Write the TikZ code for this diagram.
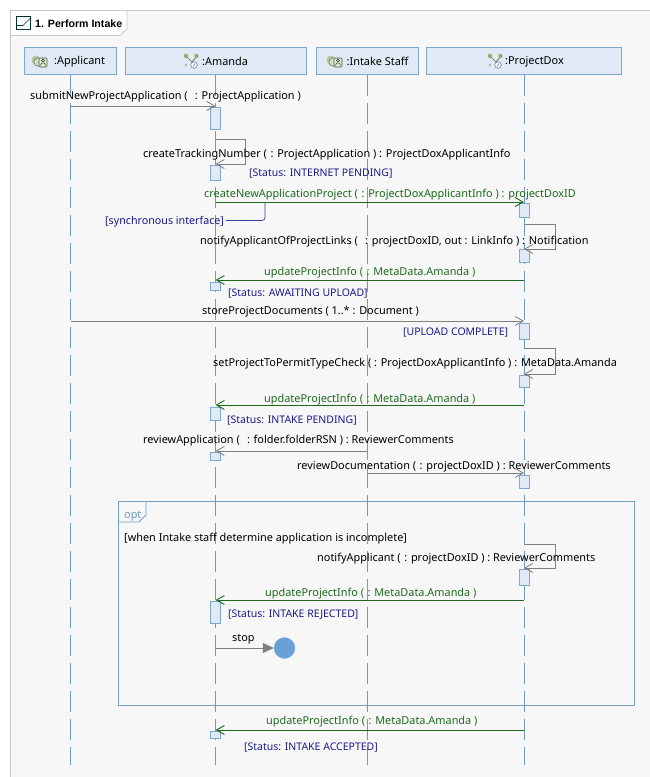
\documentclass[tikz,border=0pt]{standalone}
\usepackage{fontspec}
\setmainfont{Noto Sans}
\newfontfamily\titlefont{Liberation Sans}
\usetikzlibrary{arrows.meta}
\definecolor{bgc}{HTML}{F7F7F7}
\definecolor{framec}{HTML}{C8C8C8}
\definecolor{headfill}{HTML}{DFEAF6}
\definecolor{headline}{HTML}{7FA8CF}
\definecolor{lifec}{HTML}{6F9BBF}
\definecolor{msgc}{HTML}{808080}
\definecolor{greenc}{HTML}{1E6B1E}
\definecolor{bluec}{HTML}{1A1A8C}
\definecolor{iconc}{HTML}{8FB06A}
\definecolor{stopfill}{HTML}{6A9FD8}
\tikzset{
  x=1pt,y=-1pt,
  txt/.style={anchor=west,inner sep=0pt,yshift=-1.5pt,font=\fontsize{10.9}{12}\selectfont,text=black},
  grn/.style={txt,text=greenc},
  blu/.style={txt,text=bluec,font=\fontsize{10.5}{12}\selectfont},
  head/.style={draw=headline,fill=headfill,line width=0.8pt,minimum height=27pt,inner sep=0pt},
  bar/.style={draw=headline,fill=headfill,line width=0.8pt,minimum width=10pt,inner sep=0pt},
  life/.style={draw=lifec,line width=0.8pt,dash pattern=on 21pt off 7pt},
  msg/.style={draw=msgc,line width=1pt,-{Straight Barb[length=8pt,width=9pt,line width=0.8pt]}},
  gmsg/.style={draw=greenc,line width=1pt,-{Straight Barb[length=8pt,width=9pt,line width=0.9pt]}},
}
\newcommand{\barnode}[4]{\node[bar,minimum height=#4pt] (#1) at (#2,#3) {};}
\newcommand{\actoricon}[2]{%
  \fill[iconc!70] (#1-5,#2-1) circle (4.5);
  \draw[iconc!60!black,line width=.5pt,fill=iconc!40] (#1-3,#2+1) circle (4.2);
  \draw[iconc!50!black,line width=.6pt,fill=iconc!25,rounded corners=1pt] (#1-2,#2-3) rectangle (#1+6,#2+6);
  \draw[iconc!30!black,line width=.5pt] (#1+2,#2-.5) circle (1.5);
  \draw[iconc!30!black,line width=.5pt] (#1-.5,#2+4.5) -- (#1+.5,#2+2) -- (#1+3.5,#2+2) -- (#1+4.5,#2+4.5);
}
\newcommand{\compicon}[2]{%
  \draw[iconc!70!black,line width=.7pt] (#1-5,#2-5) -- (#1+1,#2+1) -- (#1+6,#2-5);
  \fill[iconc] (#1-5,#2-5) circle (2.2) (#1+5.5,#2-5) circle (2.2);
  \fill[iconc!70] (#1-5,#2+4) circle (1.6);
  \draw[lifec!70!black,line width=.5pt,fill=white] (#1+3,#2+4) circle (3.3);
  \draw[lifec!70!black,line width=.5pt] (#1+2,#2+5.5) -- (#1+4,#2+2.5);
}
\begin{document}
\begin{tikzpicture}
\useasboundingbox (0,0) rectangle (650,777);
\fill[white] (0,0) rectangle (650,777);
\fill[bgc] (10.5,10.5) rectangle (650,777);
\draw[framec,line width=.8pt] (650,10.5) -- (10.5,10.5) -- (10.5,777);
\draw[framec,line width=.8pt,fill=white] (10.5,10.5) -- (127,10.5) -- (127,29) -- (120,35.5) -- (10.5,35.5) -- cycle;
% tab icon
\draw[black!60!teal,line width=.8pt,fill=white] (16.5,16.5) rectangle (30,29.5);
\draw[black!60!teal,line width=.7pt] (16.5,25.5) -- (23,25.5) -- (30,18.5);
\node[anchor=west,inner sep=0pt,yshift=-.5pt,font=\titlefont\fontsize{10.6}{12}\bfseries\selectfont] (title) at (35,23) {1. Perform Intake};
% lifeline heads
\node[head,minimum width=92pt] (ap) at (70.5,61) {};
\node[head,minimum width=181pt] (am) at (216,61) {};
\node[head,minimum width=102pt] (is) at (367.5,61) {};
\node[head,minimum width=195pt] (pd) at (524,61) {};
% lifeline ends
\coordinate (apEnd) at (70.5,765);
\coordinate (amEnd) at (215.5,765);
\coordinate (isEnd) at (367,765);
\coordinate (pdEnd) at (524,765);
\draw[life] (ap.south -| apEnd) -- (apEnd);
\draw[life] (am.south -| amEnd) -- (amEnd);
\draw[life] (is.south -| isEnd) -- (isEnd);
\draw[life] (pd.south -| pdEnd) -- (pdEnd);
\actoricon{41}{61}\node[txt,yshift=.7pt] (apL) at (54,61) {:Applicant};
\compicon{191}{61}\node[txt,yshift=.7pt] (amL) at (202,61) {:Amanda};
\actoricon{336}{61}\node[txt,yshift=.7pt] (isL) at (346.5,61) {:Intake Staff};
\compicon{495}{61}\node[txt,yshift=.7pt] (pdL) at (505,61) {:ProjectDox};
% opt frame
\draw[lifec!80!headline,line width=.9pt] (118.5,501.5) rectangle (634.5,705.5);
\draw[lifec!80!headline,line width=.9pt,fill=bgc] (118.5,501.5) -- (146,501.5) -- (146,515) -- (139,522) -- (118.5,522) -- cycle;
\node[txt,text=lifec] (optL) at (124,515) {opt};
% activations
\barnode{a1}{215.5}{118}{22}
\barnode{a2}{215.5}{172.5}{15}
\barnode{p1}{524}{210}{14}
\barnode{p2}{524}{255.5}{13}
\barnode{a3}{215.5}{286}{8}
\barnode{p3}{524}{331}{16}
\barnode{p4}{524}{381}{12}
\barnode{a4}{215.5}{413.5}{13}
\barnode{a5}{215.5}{456}{8}
\barnode{p5}{524}{481.5}{13}
\barnode{p6}{524}{577}{16}
\barnode{a6}{215.5}{612}{22}
\barnode{a7}{215.5}{734.5}{7}
% messages
\coordinate (m1s) at (70.5,106);
\draw[msg] (m1s) -- (m1s -| a1.north);
\coordinate (s2) at (215.5,139);
\draw[msg] (s2) -- (245,139) -- (245,164) -- (a2.north |- 0,164);
\coordinate (m3s) at (215.5,202);
\draw[gmsg] (m3s) -- (m3s -| p1.north);
\coordinate (s4) at (524,224);
\draw[msg] (s4) -- (555,224) -- (555,249) -- (p2.north |- 0,249);
\coordinate (m5s) at (524,280);
\draw[gmsg] (m5s) -- (m5s -| a3.north);
\coordinate (m6s) at (70.5,321);
\draw[msg] (m6s) -- (m6s -| p3.north);
\coordinate (s7) at (524,348);
\draw[msg] (s7) -- (555,348) -- (555,374) -- (p4.north |- 0,374);
\coordinate (m8s) at (524,405);
\draw[gmsg] (m8s) -- (m8s -| a4.north);
\coordinate (m9s) at (367,451);
\draw[msg] (m9s) -- (m9s -| a5.north);
\coordinate (m10s) at (367,473);
\draw[msg] (m10s) -- (m10s -| p5.north);
\coordinate (s11) at (524,544);
\draw[msg] (s11) -- (555,544) -- (555,568) -- (p6.north |- 0,568);
\coordinate (m12s) at (524,600);
\draw[gmsg] (m12s) -- (m12s -| a6.north);
\coordinate (m13s) at (215.5,648);
\node[circle,fill=stopfill,draw=stopfill!80!white,minimum size=21pt,inner sep=0pt] (stopc) at (284.5,648) {};
\draw[draw=msgc,line width=1pt,-{Triangle[length=11pt,width=10pt,fill=msgc]}] (m13s) -- (stopc.west);
\coordinate (m14s) at (524,730);
\draw[gmsg] (m14s) -- (m14s -| a7.north);
% note connector
\node[blu,font=\fontsize{10.7}{12}\selectfont] (noteL) at (105,220.5) {[synchronous interface]};
\coordinate (noteEnd) at (265,202);
\draw[bluec!70!lifec,line width=.7pt,rounded corners=3pt] (226,220.5) -- (265,220.5) -- (noteEnd);
% labels
\node[txt] at (30,95) {submitNewProjectApplication (\,\,\,\,: ProjectApplication )};
\node[txt] at (143,153) {createTrackingNumber (\,\,: ProjectApplication ) : ProjectDoxApplicantInfo};
\node[blu] at (249,172) {[Status: INTERNET PENDING]};
\node[grn] at (204,193) {createNewApplicationProject (\,\,: ProjectDoxApplicantInfo ) : projectDoxID};
\node[txt] at (200,240) {notifyApplicantOfProjectLinks (\,\,\,\,: projectDoxID, out : LinkInfo ) : Notification};
\node[grn] at (264,271) {updateProjectInfo (\,\,: MetaData.Amanda )};
\node[blu] at (228,292) {[Status: AWAITING UPLOAD]};
\node[txt] at (202,310) {storeProjectDocuments ( 1..* : Document )};
\node[blu] at (403,331) {[UPLOAD COMPLETE]};
\node[txt] at (213,362) {setProjectToPermitTypeCheck ( : ProjectDoxApplicantInfo ) : MetaData.Amanda};
\node[grn] at (264,398) {updateProjectInfo (\,\,: MetaData.Amanda )};
\node[blu] at (227,419) {[Status: INTAKE PENDING]};
\node[txt] at (143,439) {reviewApplication (\,\,\,\,: folder.folderRSN ) : ReviewerComments};
\node[txt] at (297,465) {reviewDocumentation (\,\,: projectDoxID ) : ReviewerComments};
\node[txt] at (124,537.5) {[when Intake staff determine application is incomplete]};
\node[txt] at (317,557) {notifyApplicant (\,\,: projectDoxID ) : ReviewerComments};
\node[grn] at (265,592) {updateProjectInfo (\,\,: MetaData.Amanda )};
\node[blu] at (228,613) {[Status: INTAKE REJECTED]};
\node[txt] at (232,638) {stop};
\node[grn] at (266,720) {updateProjectInfo (\,\,: MetaData.Amanda )};
\node[blu] at (244,746) {[Status: INTAKE ACCEPTED]};
\end{tikzpicture}
\end{document}
